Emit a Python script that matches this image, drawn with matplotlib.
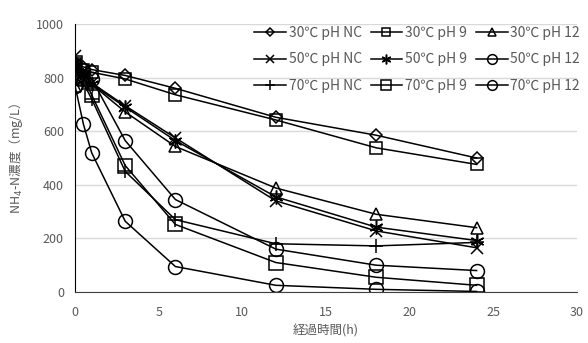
import matplotlib
matplotlib.use("Agg")
import matplotlib.pyplot as plt

plt.rcParams['font.family'] = ['Noto Sans CJK JP', 'DejaVu Sans']

# Sampling times (h)
hours = [0, 0.5, 1, 3, 6, 12, 18, 24]

# NH4-N concentration (mg/L) per condition
c30_nc = [850, 840, 830, 808, 760, 652, 585, 500]
c30_ph9 = [850, 830, 820, 795, 736, 642, 538, 476]
c30_ph12 = [770, 790, 775, 672, 543, 388, 290, 240]
c50_nc = [880, 820, 780, 695, 575, 340, 228, 165]
c50_ph9 = [860, 810, 775, 690, 565, 355, 242, 192]
c50_ph12 = [770, 830, 795, 565, 345, 160, 100, 80]
c70_nc = [840, 780, 720, 450, 270, 180, 172, 185]
c70_ph9 = [855, 800, 735, 472, 252, 110, 55, 25]
c70_ph12 = [770, 627, 519, 264, 95, 25, 10, 2]

labels = ["30℃ pH NC", "30℃ pH 9", "30℃ pH 12",
          "50℃ pH NC", "50℃ pH 9", "50℃ pH 12",
          "70℃ pH NC", "70℃ pH 9", "70℃ pH 12"]
series = [c30_nc, c30_ph9, c30_ph12, c50_nc, c50_ph9, c50_ph12,
          c70_nc, c70_ph9, c70_ph12]
markers = ["D", "s", "^", "x", (6, 2, 0), "o", "+", "s", "o"]
sizes = [6, 9, 9, 9, 10, 10, 10, 10, 10]

gray = "#595959"
W, H = 588, 343
fig = plt.figure(figsize=(W / 100, H / 100), dpi=100)
ax = fig.add_axes([75 / W, 1 - 292 / H, 502 / W, 268 / H])

handles = []
for y, lab, m, s in zip(series, labels, markers, sizes):
    h, = ax.plot(hours, y, color="black", lw=1.1, marker=m, ms=s,
                 mfc="none", mec="black", mew=1.1, label=lab)
    handles.append(h)

ax.set_xlim(0, 30)
ax.set_ylim(0, 1000)
ax.set_xticks(range(0, 31, 5))
ax.set_yticks(range(0, 1001, 200))
ax.yaxis.grid(True, color="#d9d9d9", lw=1)
ax.set_axisbelow(True)
for sp in ["top", "right"]:
    ax.spines[sp].set_visible(False)
ax.spines["left"].set_color("black")
ax.spines["bottom"].set_color("#404040")
ax.tick_params(length=0, labelsize=9, labelcolor=gray)
ax.tick_params(axis="x", pad=10)
ax.tick_params(axis="y", pad=8)
ax.set_xlabel("経過時間(h)", fontsize=9, color=gray, labelpad=4)
ax.set_ylabel("NH$_4$-N濃度（mg/L）", fontsize=9, color=gray, labelpad=8)

order = [0, 3, 6, 1, 4, 7, 2, 5, 8]
leg = fig.legend([handles[i] for i in order], [labels[i] for i in order],
                 ncol=3, frameon=False, fontsize=10, loc="upper right",
                 bbox_to_anchor=(587 / W, 1 - 19 / H), handlelength=2.3,
                 handletextpad=0.2, columnspacing=0.6, labelspacing=0.9,
                 markerscale=0.7, labelcolor=gray, borderpad=0)

fig.savefig("out.png", dpi=100)
